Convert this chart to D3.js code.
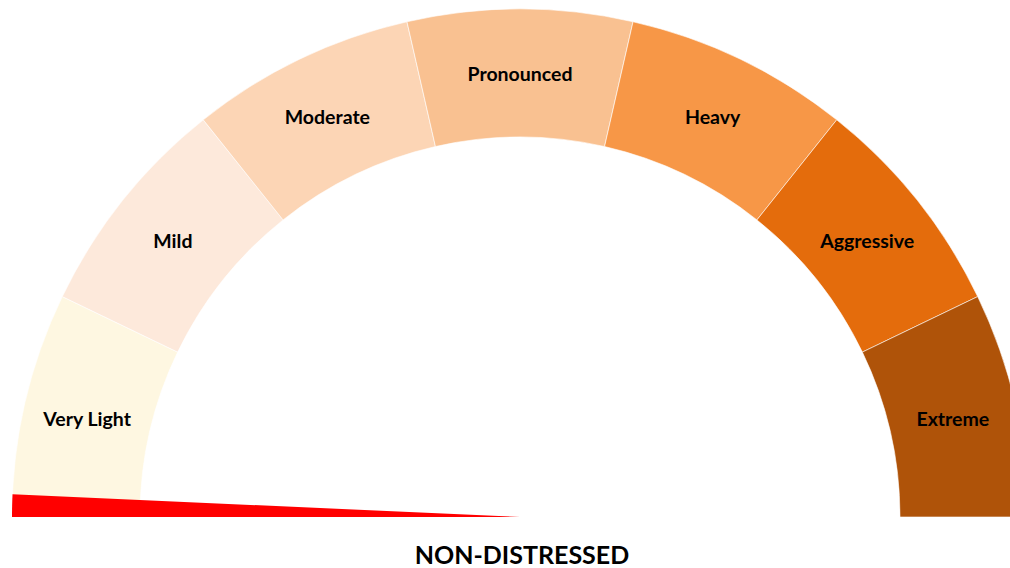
<!DOCTYPE html>
<html>
<head>
<meta charset="utf-8">
<script src="https://cdn.jsdelivr.net/npm/d3@7"></script>
<style>
  html, body { margin: 0; padding: 0; background: #fff; }
  svg { display: block; }
</style>
</head>
<body>
<svg id="chart" width="1010" height="568"></svg>
<script>
const categories = ["Very Light", "Mild", "Moderate", "Pronounced", "Heavy", "Aggressive", "Extreme"];
const segmentValues = [1, 1, 1, 1, 1, 1, 1];
const segmentColors = ["#FEF7E1", "#FDE9DB", "#FCD5B5", "#F9C191", "#F79747", "#E46C0C", "#AF5309"];
const needleValue = [0, 0.1]; // needle start/end on 0..7 scale
const title = "NON-DISTRESSED";

const svg = d3.select("#chart");
const cx = 520, cy = 517, rOuter = 508, rInner = 380;

const total = d3.sum(segmentValues);
const angle = d3.scaleLinear().domain([0, total]).range([-Math.PI / 2, Math.PI / 2]);

const pie = d3.pie().sort(null).value(d => d)
  .startAngle(-Math.PI / 2).endAngle(Math.PI / 2);
const arcs = pie(segmentValues);
const arc = d3.arc().innerRadius(rInner).outerRadius(rOuter);

const g = svg.append("g").attr("transform", `translate(${cx},${cy})`);

g.selectAll("path.seg").data(arcs).join("path")
  .attr("class", "seg")
  .attr("d", arc)
  .attr("fill", (d, i) => segmentColors[i])
  .attr("stroke", "#ffffff")
  .attr("stroke-width", 0.6);

g.selectAll("text.lbl").data(arcs).join("text")
  .attr("class", "lbl")
  .attr("transform", d => `translate(${arc.centroid(d)})`)
  .attr("text-anchor", "middle")
  .attr("dominant-baseline", "central")
  .attr("font-family", "Lato, 'Open Sans', sans-serif")
  .attr("font-weight", "bold")
  .attr("font-size", 19.5)
  .attr("fill", "#000")
  .text((d, i) => categories[i]);

// needle: thin red wedge from the centre
const needleArc = d3.arc().innerRadius(0).outerRadius(rOuter)
  .startAngle(angle(needleValue[0])).endAngle(angle(needleValue[1]));
g.append("path").attr("d", needleArc()).attr("fill", "#FF0000");

svg.append("text")
  .attr("x", 522).attr("y", 554)
  .attr("text-anchor", "middle")
  .attr("dominant-baseline", "central")
  .attr("font-family", "Lato, 'Open Sans', sans-serif")
  .attr("font-weight", "bold")
  .attr("font-size", 25)
  .attr("fill", "#000")
  .text(title);
</script>
</body>
</html>
